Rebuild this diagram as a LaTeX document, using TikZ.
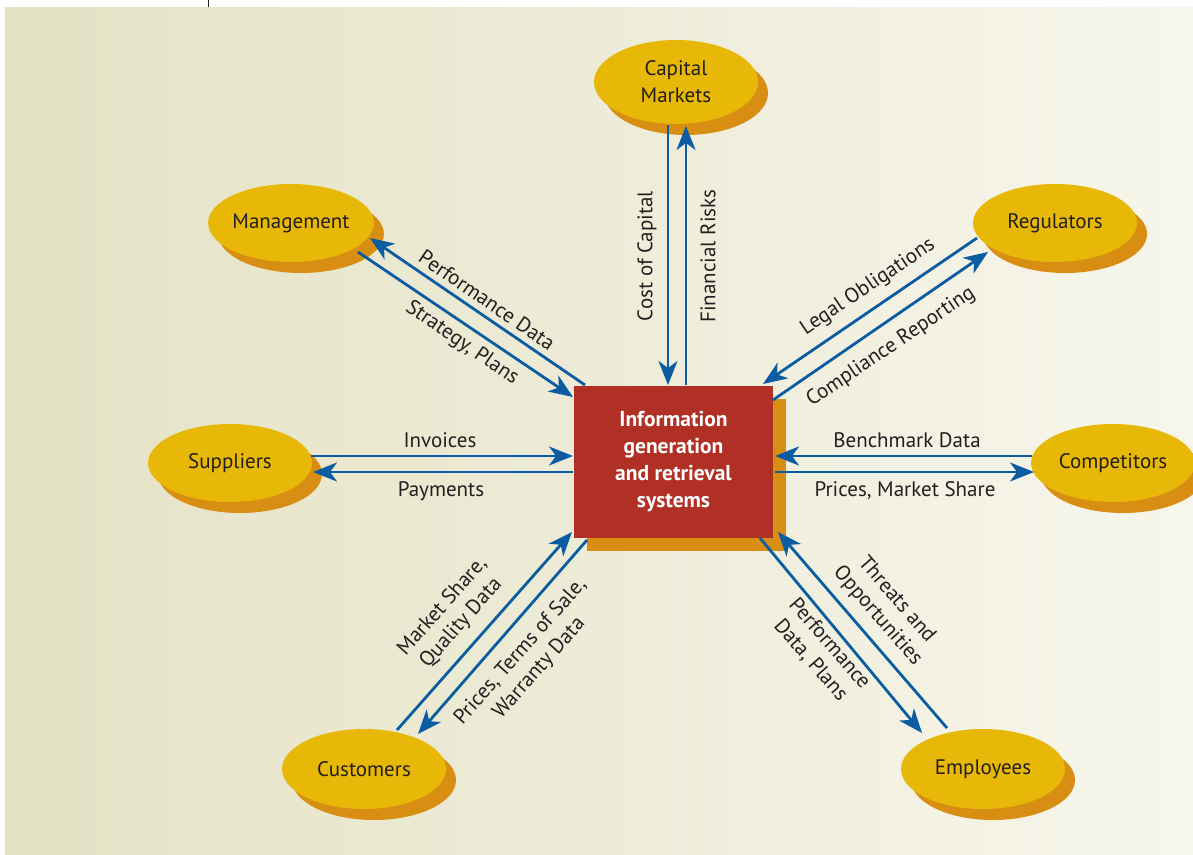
\documentclass[tikz,border=0pt]{standalone}
\usepackage{fontspec}
\setmainfont{PT Sans}
\usepackage{xcolor}
\usepackage{tikz}
\usetikzlibrary{shapes.geometric,arrows.meta,shadows}
\definecolor{bgleft}  {HTML}{E4E2C4}
\definecolor{bgright} {HTML}{F7F6EC}
\definecolor{gold}    {HTML}{E8B808}
\definecolor{ochre}   {HTML}{D88E12}
\definecolor{brick}   {HTML}{B03026}
\definecolor{flowblue}{HTML}{0B5CA0}
\definecolor{ink}     {HTML}{231F20}

\begin{document}
\begin{tikzpicture}[x=1pt,y=-1pt,
        party/.style={ellipse,fill=gold,text=ink,align=center,
                      font=\fontsize{21}{27}\selectfont,
                      minimum width=164pt,minimum height=78pt,inner sep=0pt,
                      drop shadow={shadow xshift=10pt,shadow yshift=-11pt,
                                   fill=ochre,opacity=1}},
        hub/.style={rectangle,fill=brick,text=white,align=center,
                    font=\bfseries\fontsize{21.5}{27}\selectfont,
                    minimum width=199pt,minimum height=152pt,inner sep=0pt,
                    drop shadow={shadow xshift=13pt,shadow yshift=-13pt,
                                 fill=ochre,opacity=1}},
        arr/.style={-{Stealth[length=24pt,width=19pt,inset=7pt]},flowblue,line width=2.8pt},
        lbl/.style={text=ink,align=center,font=\fontsize{21}{25}\selectfont,inner sep=0pt}]
  \useasboundingbox (0,0) rectangle (1193,854);
  % background panel
  \shade[left color=bgleft,right color=bgright] (5,7) rectangle (1193,854);
  \draw[ink,line width=0.8pt] (208,0) -- (208,7);

  % nodes
  \node[hub]   (sys)  at (673.5,462) {Information\\generation\\and retrieval\\systems};
  \node[party,minimum height=84pt] (cap) at (676,82) {Capital\\Markets};
  \node[party] (mgmt) at (291,223)  {Management};
  \node[party] (reg)  at (1055,223) {Regulators};
  \node[party] (sup)  at (230,463)  {Suppliers};
  \node[party] (comp) at (1113,463) {Competitors};
  \node[party,minimum height=80pt] (cust) at (364,769) {Customers};
  \node[party,minimum height=80pt] (emp)  at (983,769) {Employees};

  % flows
  \draw[arr] ([shift={(-8,43)}]cap.center) -- ([shift={(-5.5,-77)}]sys.center);
  \draw[arr] ([shift={(12.5,-77)}]sys.center) -- ([shift={(10,44)}]cap.center);
  \draw[arr] ([shift={(-88.5,-77)}]sys.center) -- ([shift={(79,15)}]mgmt.center);
  \draw[arr] ([shift={(67,29)}]mgmt.center) -- ([shift={(-100.5,-65)}]sys.center);
  \draw[arr] ([shift={(-78,15)}]reg.center) -- ([shift={(89.5,-78)}]sys.center);
  \draw[arr] ([shift={(99.5,-62)}]sys.center) -- ([shift={(-67,29)}]reg.center);
  \draw[arr] ([shift={(81,-7)}]sup.center) -- ([shift={(-100.5,-6)}]sys.center);
  \draw[arr] ([shift={(-100.5,10)}]sys.center) -- ([shift={(83,9)}]sup.center);
  \draw[arr] ([shift={(-81,-7)}]comp.center) -- ([shift={(101.5,-6)}]sys.center);
  \draw[arr] ([shift={(101.5,10)}]sys.center) -- ([shift={(-79,9)}]comp.center);
  \draw[arr] ([shift={(33,-39)}]cust.center) -- ([shift={(-101.5,70)}]sys.center);
  \draw[arr] ([shift={(-86.5,78)}]sys.center) -- ([shift={(54,-35)}]cust.center);
  \draw[arr] ([shift={(-36,-41)}]emp.center) -- ([shift={(104.5,70)}]sys.center);
  \draw[arr] ([shift={(86.5,76)}]sys.center) -- ([shift={(-61,-36)}]emp.center);

  % flow labels
  \node[lbl,rotate=90]    (lcost)  at (647,256) {Cost of Capital};
  \node[lbl,rotate=90]    (lrisk)  at (708,256) {Financial Risks};
  \node[lbl,rotate=-34.4] (lperf)  at (487,300) {Performance Data};
  \node[lbl,rotate=-34.4] (lstrat) at (462,343) {Strategy, Plans};
  \node[lbl,rotate=34]    (llegal) at (868,287) {Legal Obligations};
  \node[lbl,rotate=34]    (lcomp)  at (891,347) {Compliance Reporting};
  \node[lbl]              (linv)   at (440,440) {Invoices};
  \node[lbl]              (lpay)   at (441,491) {Payments};
  \node[lbl]              (lbench) at (907,440) {Benchmark Data};
  \node[lbl]              (lprice) at (905,491) {Prices, Market Share};
  \node[lbl,rotate=48.5]  (lms)    at (452,615) {Market Share,\\Quality Data};
  \node[lbl,rotate=48.5]  (lterms) at (530,660) {Prices, Terms of Sale,\\Warranty Data};
  \node[lbl,rotate=-49]   (lthr)   at (887,608) {Threats and\\Opportunities};
  \node[lbl,rotate=-49]   (lplan)  at (820,652) {Performance\\Data, Plans};
\end{tikzpicture}
\end{document}
